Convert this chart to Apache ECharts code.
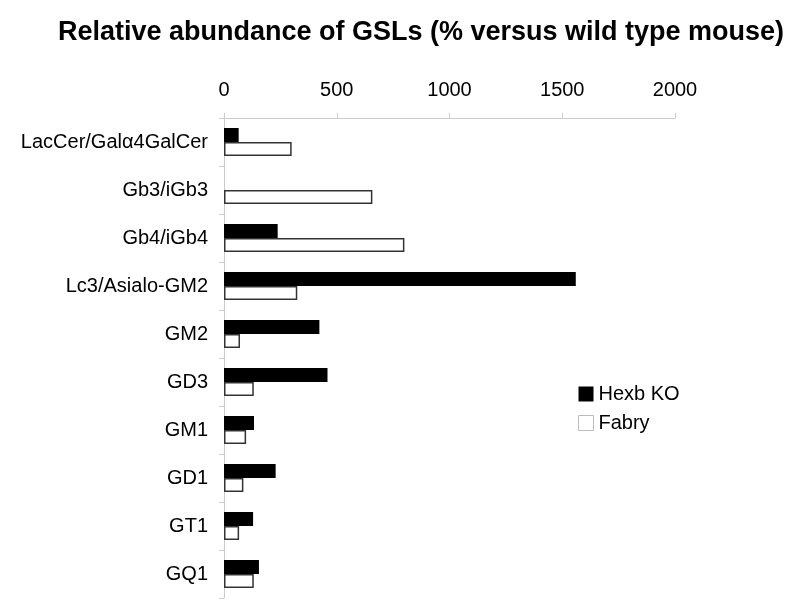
<!DOCTYPE html>
<html>
<head>
<meta charset="utf-8">
<script src="https://cdn.jsdelivr.net/npm/echarts@6/dist/echarts.min.js"></script>
<style>html,body{margin:0;padding:0;background:#fff}#c{width:800px;height:602px}</style>
</head>
<body>
<div id="c"></div>
<script>
const categories = ["LacCer/Galα4GalCer","Gb3/iGb3","Gb4/iGb4","Lc3/Asialo-GM2","GM2","GD3","GM1","GD1","GT1","GQ1"];
const hexbKO = [65, 0, 238, 1560, 423, 459, 133, 229, 129, 155];
const fabry = [300, 658, 800, 325, 71, 132, 98, 86, 67, 132];
const xTicks = [0, 500, 1000, 1500, 2000];

const chart = echarts.init(document.getElementById('c'), null, {renderer:'canvas'});
const font = '"Liberation Sans", Arial, sans-serif';
chart.setOption({
  animation: false,
  backgroundColor: '#fff',
  title: {
    text: 'Relative abundance of GSLs (% versus wild type mouse)',
    left: 416, top: 14, textAlign: 'center',
    textStyle: {fontFamily: font, fontSize: 27, fontWeight: 'bold', color: '#000'}
  },
  legend: {
    orient: 'vertical', left: 573, top: 379, itemWidth: 15, itemHeight: 15, itemGap: 9,
    icon: 'rect',
    textStyle: {fontFamily: font, fontSize: 20, color: '#000'},
    data: [
      {name: 'Hexb KO', itemStyle: {color: '#000', borderWidth: 0}},
      {name: 'Fabry', itemStyle: {color: '#fff', borderColor: '#bbb', borderWidth: 1}}
    ]
  },
  grid: {left: 224, right: 125, top: 118, bottom: 4, containLabel: false},
  xAxis: {
    type: 'value', position: 'top', min: xTicks[0], max: xTicks[xTicks.length-1], interval: 500,
    axisLine: {show: true, lineStyle: {color: '#ccc'}},
    axisTick: {show: true, length: 5, lineStyle: {color: '#ccc'}},
    splitLine: {show: false},
    axisLabel: {fontFamily: font, fontSize: 20, color: '#000', margin: 18,
      formatter: function (v) { return String(v); }}
  },
  yAxis: {
    type: 'category', inverse: true, data: categories,
    axisLine: {show: true, lineStyle: {color: '#ccc'}},
    axisTick: {show: true, length: 5, lineStyle: {color: '#ccc'}},
    axisLabel: {fontFamily: font, fontSize: 20, color: '#000', margin: 16}
  },
  series: [
    {name: 'Hexb KO', type: 'bar', data: hexbKO, barWidth: 14, barGap: '0%',
     itemStyle: {color: '#000'}},
    {name: 'Fabry', type: 'bar', data: fabry, barWidth: 14, barGap: '0%',
     itemStyle: {color: '#fff', borderColor: '#333', borderWidth: 1.5}}
  ]
});
</script>
</body>
</html>
